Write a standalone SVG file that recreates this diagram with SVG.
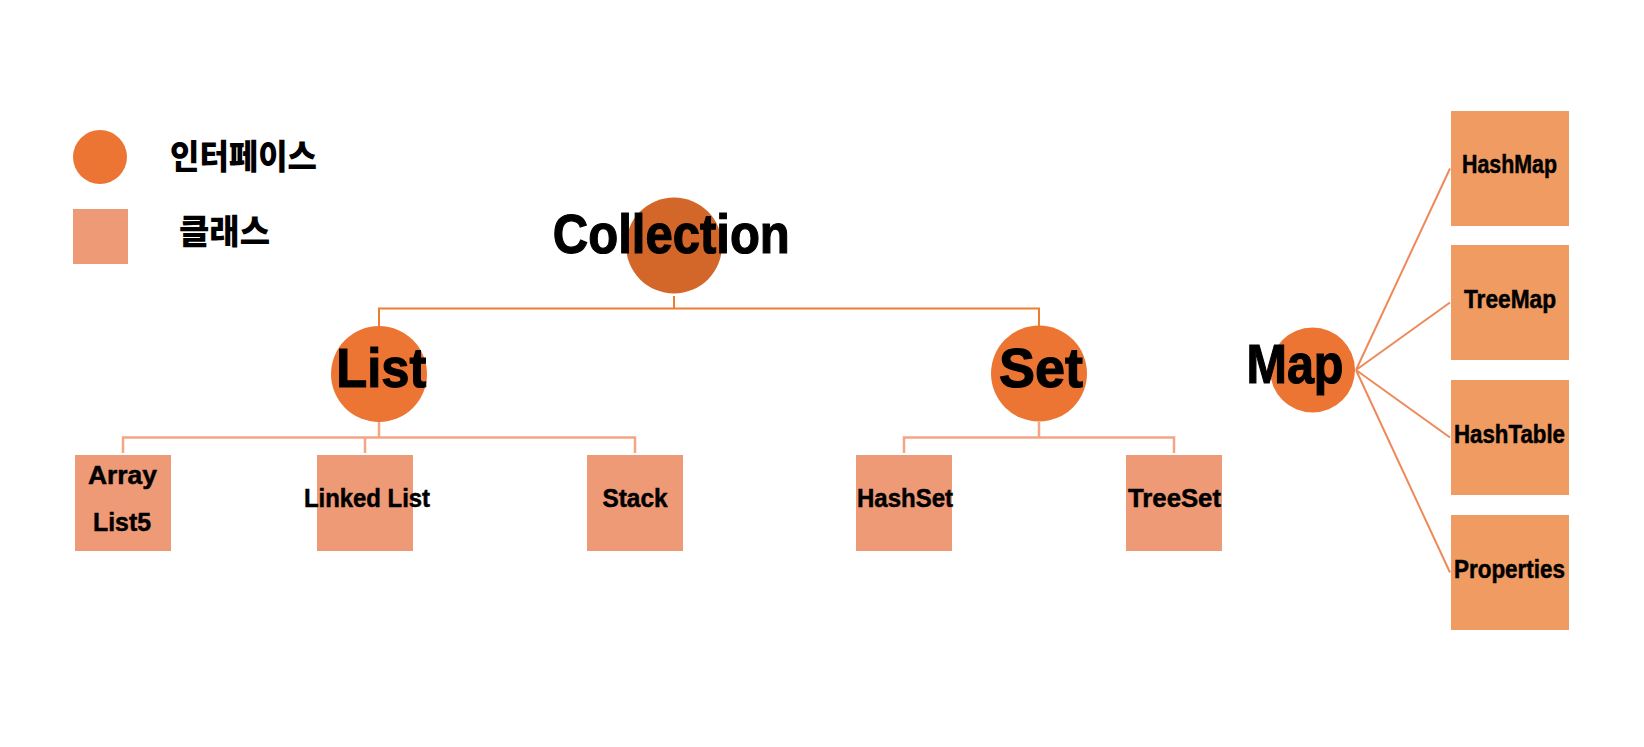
<svg xmlns="http://www.w3.org/2000/svg" width="1644" height="747" viewBox="0 0 1644 747">
<style>
.iface{fill:#ED7533}
.root{fill:#D3672A}
.cls{fill:#EF9A77}
.mcls{fill:#EF9B62}
.big{font-family:"Liberation Sans",Arial,sans-serif;font-weight:bold;font-size:56px;fill:#000;stroke:#000;stroke-width:1.2;text-anchor:middle}
.lbl{font-family:"Liberation Sans",Arial,sans-serif;font-weight:bold;font-size:25px;fill:#000;stroke:#000;stroke-width:0.5;text-anchor:middle}
.ko{font-family:"Noto Sans CJK KR","Liberation Sans",sans-serif;font-weight:900;font-size:34px;fill:#000}
.c1{fill:none;stroke:#ED7D31;stroke-width:2}
.c2{fill:none;stroke:#F3A584;stroke-width:2.5}
.c3{fill:none;stroke:#EE8A5A;stroke-width:2}
</style>
<rect width="1644" height="747" fill="#fff"/>
<g id="legend">
<circle class="iface" cx="100" cy="157" r="27"/>
<text class="ko" x="170" y="169" textLength="147" lengthAdjust="spacingAndGlyphs">인터페이스</text>
<rect class="cls" x="73" y="209" width="55" height="55"/>
<text class="ko" x="179" y="244" textLength="91" lengthAdjust="spacingAndGlyphs">클래스</text>
</g>
<g id="connectors">
<path class="c1" d="M674 296V308.5M379 326V308.5H1039V326"/>
<path class="c2" d="M379 422V437.5M123 453V437.5H635V453M365 437.5V453"/>
<path class="c2" d="M1039 422V437.5M904 453V437.5H1174V453"/>
<path class="c3" d="M1356 370L1450 168.5M1356 370L1450 302.5M1356 370L1450 437.5M1356 370L1450 572.5"/>
</g>
<g id="collection">
<circle class="root" cx="674" cy="245.5" r="48"/>
<text class="big" x="671.3" y="253" textLength="237" lengthAdjust="spacingAndGlyphs">Collection</text>
</g>
<g id="list">
<circle class="iface" cx="379" cy="374" r="48"/>
<text class="big" x="381.3" y="387" textLength="90" lengthAdjust="spacingAndGlyphs">List</text>
</g>
<g id="set">
<circle class="iface" cx="1039" cy="373.5" r="48"/>
<text class="big" x="1041" y="387" textLength="84" lengthAdjust="spacingAndGlyphs">Set</text>
</g>
<g id="map">
<circle class="iface" cx="1312.5" cy="370" r="42.5"/>
<text class="big" x="1295" y="383" font-size="57" textLength="97" lengthAdjust="spacingAndGlyphs">Map</text>
</g>
<g id="arraylist">
<rect class="cls" x="75" y="455" width="96" height="96"/>
<text class="lbl" x="122.5" y="484" textLength="69" lengthAdjust="spacingAndGlyphs">Array</text>
<text class="lbl" x="122" y="531" textLength="58" lengthAdjust="spacingAndGlyphs">List5</text>
</g>
<g id="linkedlist">
<rect class="cls" x="317" y="455" width="96" height="96"/>
<text class="lbl" x="367" y="507" textLength="126" lengthAdjust="spacingAndGlyphs">Linked List</text>
</g>
<g id="stack">
<rect class="cls" x="587" y="455" width="96" height="96"/>
<text class="lbl" x="635" y="507" textLength="65" lengthAdjust="spacingAndGlyphs">Stack</text>
</g>
<g id="hashset">
<rect class="cls" x="856" y="455" width="96" height="96"/>
<text class="lbl" x="905" y="507" textLength="96" lengthAdjust="spacingAndGlyphs">HashSet</text>
</g>
<g id="treeset">
<rect class="cls" x="1126" y="455" width="96" height="96"/>
<text class="lbl" x="1174.5" y="507" textLength="93" lengthAdjust="spacingAndGlyphs">TreeSet</text>
</g>
<g id="hashmap">
<rect class="mcls" x="1451" y="111" width="118" height="115"/>
<text class="lbl" x="1509.5" y="173" textLength="95" lengthAdjust="spacingAndGlyphs">HashMap</text>
</g>
<g id="treemap">
<rect class="mcls" x="1451" y="245" width="118" height="115"/>
<text class="lbl" x="1510" y="308" textLength="92" lengthAdjust="spacingAndGlyphs">TreeMap</text>
</g>
<g id="hashtable">
<rect class="mcls" x="1451" y="380" width="118" height="115"/>
<text class="lbl" x="1509.5" y="443" textLength="111" lengthAdjust="spacingAndGlyphs">HashTable</text>
</g>
<g id="properties">
<rect class="mcls" x="1451" y="515" width="118" height="115"/>
<text class="lbl" x="1509.5" y="578" textLength="111" lengthAdjust="spacingAndGlyphs">Properties</text>
</g>
</svg>
